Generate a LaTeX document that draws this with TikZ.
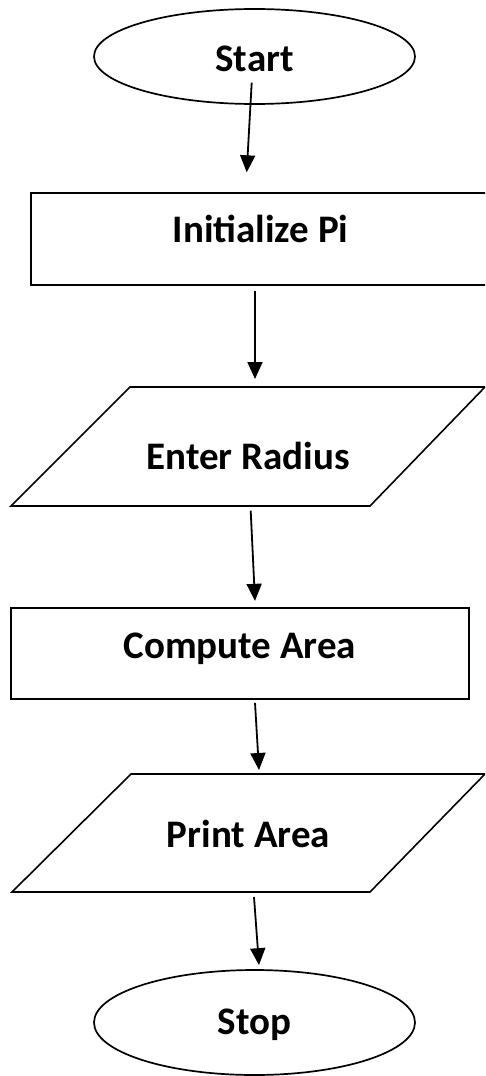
\documentclass[tikz,border=0pt]{standalone}
\usepackage{fontspec}
\setmainfont{Carlito}
\usetikzlibrary{shapes.geometric,arrows.meta,calc}
\begin{document}
\begin{tikzpicture}[x=1pt,y=-1pt,
  lbl/.style={font=\fontsize{39pt}{47pt}\selectfont\bfseries, text height=0pt, text depth=0pt, inner sep=0pt},
  term/.style={lbl, ellipse, draw, line width=1.7pt, minimum width=321pt},
  proc/.style={lbl, rectangle, draw, line width=2pt},
  io/.style={lbl},
  ioshape/.style={line width=1.6pt, line join=miter},
  flow/.style={line width=1.8pt, -{Triangle[length=17pt,width=15pt]}}]
\fill[white] (0,0) rectangle (485,1076);
\useasboundingbox (0,0) rectangle (485,1076);
\clip (0,0) rectangle (485,1076);

\node[term, minimum height=95pt] (start) at (254.5,56.5) {\raisebox{-15pt}{Start}};
\node[proc, minimum width=459pt, minimum height=92pt] (init) at (260.5,239) {\raisebox{-3pt}{Initialize Pi}};
\node[io] (er) at (248,446.5) {\raisebox{-23pt}{Enter Radius}};
\draw[ioshape] ($(er.center)+(-118,-59.5)$) -- ($(er.center)+(237,-59.5)$) -- ($(er.center)+(122,59.5)$) -- ($(er.center)+(-237,59.5)$) -- cycle;
\node[proc, minimum width=458pt, minimum height=91pt] (comp) at (239.85,653.35) {\raisebox{-5pt}{Compute Area}};
\node[io] (pa) at (248.5,833) {\raisebox{-14pt}{Print Area}};
\draw[ioshape] ($(pa.center)+(-117.5,-59)$) -- ($(pa.center)+(236.5,-59)$) -- ($(pa.center)+(121.5,59)$) -- ($(pa.center)+(-236.5,59)$) -- cycle;
\node[term, minimum height=105pt] (stop) at (254.5,1022.5) {\raisebox{-11.5pt}{Stop}};

\draw[flow] ($(start.center)+(-2.8,26.2)$) -- ($(init.north)+(-13.8,-19.7)$);
\draw[flow] ($(init.south)+(-5.5,5)$) -- ($(er.center)+(7,-67.5)$);
\draw[flow] ($(er.center)+(2.7,64.2)$) -- ($(comp.north)+(15.15,-6)$);
\draw[flow] ($(comp.south)+(15.15,3)$) -- ($(pa.center)+(10.5,-63)$);
\draw[flow] ($(pa.center)+(5.5,64)$) -- ($(stop.north)+(4.5,-4)$);
\end{tikzpicture}
\end{document}
